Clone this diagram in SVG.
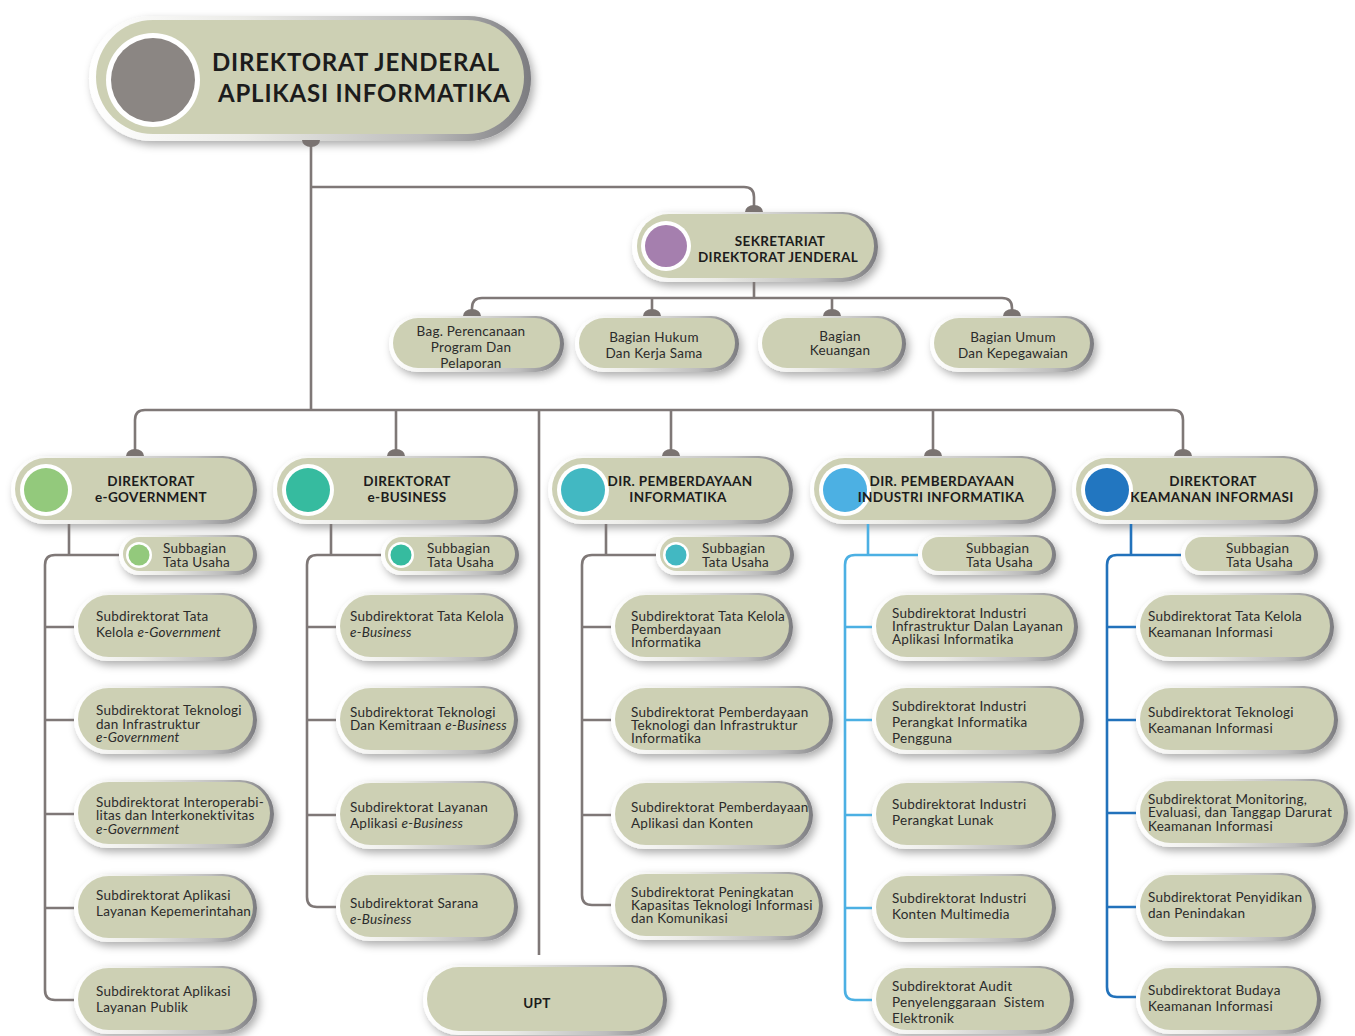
<svg xmlns="http://www.w3.org/2000/svg" width="1355" height="1036" viewBox="0 0 1355 1036">
  <defs>
    <linearGradient id="rim" x1="0" y1="0" x2="1" y2="0">
      <stop offset="0" stop-color="#ffffff"/>
      <stop offset="0.35" stop-color="#ebebe7"/>
      <stop offset="0.75" stop-color="#bdbdbd"/>
      <stop offset="1" stop-color="#7c7c80"/>
    </linearGradient>
    <filter id="sh" x="-10%" y="-20%" width="125%" height="160%">
      <feDropShadow dx="3" dy="4" stdDeviation="4" flood-color="#000" flood-opacity="0.32"/>
    </filter>
    <style>
      .rim{fill:url(#rim);filter:url(#sh)}
      .fill{fill:#cdd0b4}
      .ring{fill:#ffffff}
      .t{font-family:Lato,"Liberation Sans",sans-serif;font-size:13.5px;letter-spacing:0.25px;fill:#2b2b2b}
      .h{font-family:Lato,"Liberation Sans",sans-serif;font-weight:700;font-size:13.5px;letter-spacing:0.35px;fill:#1c1c1c;text-anchor:middle}
      .big{font-size:24px;letter-spacing:0.8px;text-anchor:start}
      .c{text-anchor:middle}
      .i{font-style:italic}
      .ln{fill:none;stroke:#7f7877;stroke-width:2.6}
      .lb{stroke:#4cb0e3}
      .db{stroke:#2272bb}
      .dome{fill:#7a7371}
    </style>
  </defs>

  <rect width="1355" height="1036" fill="#ffffff"/>

  <!-- top level -->
  <g id="dirjen">
    <rect class="rim" x="89" y="16" width="442" height="125" rx="62.5"/>
    <rect class="fill" x="96" y="20" width="428" height="114" rx="57"/>
    <circle class="ring" cx="153" cy="80" r="47"/>
    <circle cx="153" cy="80" r="42" fill="#8b8683"/>
    <text class="h big" x="212" y="71">DIREKTORAT JENDERAL</text>
    <text class="h big" x="218" y="102">APLIKASI INFORMATIKA</text>
  </g>

  <g id="sekretariat">
    <rect class="rim" x="632" y="212" width="246" height="70" rx="35"/>
    <rect class="fill" x="637" y="214" width="237" height="64" rx="32"/>
    <circle class="ring" cx="666" cy="246" r="25"/>
    <circle cx="666" cy="246" r="21" fill="#a57fae"/>
    <text class="h" x="780" y="246">SEKRETARIAT</text>
    <text class="h" x="778" y="262">DIREKTORAT JENDERAL</text>
  </g>

  <!-- bagian -->
  <g id="bag-perencanaan">
    <rect class="rim" x="389" y="316" width="175" height="56" rx="28"/>
    <rect class="fill" x="393" y="318" width="167" height="50" rx="25"/>
    <text class="t c" x="471" y="336">Bag. Perencanaan</text>
    <text class="t c" x="471" y="352">Program Dan</text>
    <text class="t c" x="471" y="368">Pelaporan</text>
  </g>
  <g id="bag-hukum">
    <rect class="rim" x="575" y="316" width="164" height="56" rx="28"/>
    <rect class="fill" x="579" y="318" width="156" height="50" rx="25"/>
    <text class="t c" x="654" y="342">Bagian Hukum</text>
    <text class="t c" x="654" y="358">Dan Kerja Sama</text>
  </g>
  <g id="bag-keuangan">
    <rect class="rim" x="758" y="316" width="148" height="56" rx="28"/>
    <rect class="fill" x="762" y="318" width="140" height="50" rx="25"/>
    <text class="t c" x="840" y="341">Bagian</text>
    <text class="t c" x="840" y="355">Keuangan</text>
  </g>
  <g id="bag-umum">
    <rect class="rim" x="930" y="316" width="164" height="56" rx="28"/>
    <rect class="fill" x="934" y="318" width="156" height="50" rx="25"/>
    <text class="t c" x="1013" y="342">Bagian Umum</text>
    <text class="t c" x="1013" y="358">Dan Kepegawaian</text>
  </g>

  <!-- direktorat -->
  <g id="dir-egov">
    <rect class="rim" x="11" y="456" width="246" height="68" rx="34"/>
    <rect class="fill" x="15" y="458" width="238" height="62" rx="31"/>
    <circle class="ring" cx="46" cy="490" r="26"/>
    <circle cx="46" cy="490" r="22" fill="#93c97c"/>
    <text class="h" x="151" y="486">DIREKTORAT</text>
    <text class="h" x="151" y="502">e-GOVERNMENT</text>
  </g>
  <g id="dir-ebiz">
    <rect class="rim" x="273" y="456" width="245" height="68" rx="34"/>
    <rect class="fill" x="277" y="458" width="237" height="62" rx="31"/>
    <circle class="ring" cx="308" cy="490" r="26"/>
    <circle cx="308" cy="490" r="22" fill="#36bb9f"/>
    <text class="h" x="407" y="486">DIREKTORAT</text>
    <text class="h" x="407" y="502">e-BUSINESS</text>
  </g>
  <g id="dir-pemberdayaan">
    <rect class="rim" x="548" y="456" width="245" height="68" rx="34"/>
    <rect class="fill" x="552" y="458" width="237" height="62" rx="31"/>
    <circle class="ring" cx="583" cy="490" r="26"/>
    <circle cx="583" cy="490" r="22" fill="#42b8c2"/>
    <text class="h" x="680" y="486">DIR. PEMBERDAYAAN</text>
    <text class="h" x="678" y="502">INFORMATIKA</text>
  </g>
  <g id="dir-industri">
    <rect class="rim" x="810" y="456" width="246" height="68" rx="34"/>
    <rect class="fill" x="814" y="458" width="238" height="62" rx="31"/>
    <circle class="ring" cx="845" cy="490" r="26"/>
    <circle cx="845" cy="490" r="22" fill="#4cb0e3"/>
    <text class="h" x="942" y="486">DIR. PEMBERDAYAAN</text>
    <text class="h" x="941" y="502">INDUSTRI INFORMATIKA</text>
  </g>
  <g id="dir-keamanan">
    <rect class="rim" x="1072" y="456" width="246" height="68" rx="34"/>
    <rect class="fill" x="1076" y="458" width="238" height="62" rx="31"/>
    <circle class="ring" cx="1107" cy="490" r="26"/>
    <circle cx="1107" cy="490" r="22" fill="#2276c0"/>
    <text class="h" x="1213" y="486">DIREKTORAT</text>
    <text class="h" x="1212" y="502">KEAMANAN INFORMASI</text>
  </g>

  <!-- subbagian tata usaha -->
  <g id="tu-egov">
    <rect class="rim" x="119" y="535" width="138" height="40" rx="20"/>
    <rect class="fill" x="123" y="537" width="130" height="34" rx="17"/>
    <circle class="ring" cx="139" cy="555" r="13"/>
    <circle cx="139" cy="555" r="10.5" fill="#93c97c"/>
    <text class="t" x="163" y="553">Subbagian</text>
    <text class="t" x="163" y="567">Tata Usaha</text>
  </g>
  <g id="tu-ebiz">
    <rect class="rim" x="381" y="535" width="138" height="40" rx="20"/>
    <rect class="fill" x="385" y="537" width="130" height="34" rx="17"/>
    <circle class="ring" cx="401" cy="555" r="13"/>
    <circle cx="401" cy="555" r="10.5" fill="#36bb9f"/>
    <text class="t" x="427" y="553">Subbagian</text>
    <text class="t" x="427" y="567">Tata Usaha</text>
  </g>
  <g id="tu-pemberdayaan">
    <rect class="rim" x="656" y="535" width="138" height="40" rx="20"/>
    <rect class="fill" x="660" y="537" width="130" height="34" rx="17"/>
    <circle class="ring" cx="676" cy="555" r="13"/>
    <circle cx="676" cy="555" r="10.5" fill="#42b8c2"/>
    <text class="t" x="702" y="553">Subbagian</text>
    <text class="t" x="702" y="567">Tata Usaha</text>
  </g>
  <g id="tu-industri">
    <rect class="rim" x="918" y="535" width="138" height="40" rx="20"/>
    <rect class="fill" x="922" y="537" width="130" height="34" rx="17"/>
    <text class="t" x="966" y="553">Subbagian</text>
    <text class="t" x="966" y="567">Tata Usaha</text>
  </g>
  <g id="tu-keamanan">
    <rect class="rim" x="1181" y="535" width="137" height="40" rx="20"/>
    <rect class="fill" x="1185" y="537" width="129" height="34" rx="17"/>
    <text class="t" x="1226" y="553">Subbagian</text>
    <text class="t" x="1226" y="567">Tata Usaha</text>
  </g>

  <!-- subdirektorat: e-Government -->
  <g id="egov-1">
    <rect class="rim" x="74" y="593" width="183" height="68" rx="34"/>
    <rect class="fill" x="78" y="595" width="175" height="62" rx="31"/>
    <text class="t" x="96" y="621">Subdirektorat Tata</text>
    <text class="t" x="96" y="637">Kelola <tspan class="i">e-Government</tspan></text>
  </g>
  <g id="egov-2">
    <rect class="rim" x="74" y="686" width="183" height="68" rx="34"/>
    <rect class="fill" x="78" y="688" width="175" height="62" rx="31"/>
    <text class="t" x="96" y="715">Subdirektorat Teknologi</text>
    <text class="t" x="96" y="729">dan Infrastruktur</text>
    <text class="t i" x="96" y="742">e-Government</text>
  </g>
  <g id="egov-3">
    <rect class="rim" x="74" y="780" width="200" height="68" rx="34"/>
    <rect class="fill" x="78" y="782" width="192" height="62" rx="31"/>
    <text class="t" x="96" y="807">Subdirektorat Interoperabi-</text>
    <text class="t" x="96" y="820">litas dan Interkonektivitas</text>
    <text class="t i" x="96" y="834">e-Government</text>
  </g>
  <g id="egov-4">
    <rect class="rim" x="74" y="874" width="183" height="68" rx="34"/>
    <rect class="fill" x="78" y="876" width="175" height="62" rx="31"/>
    <text class="t" x="96" y="900">Subdirektorat Aplikasi</text>
    <text class="t" x="96" y="916">Layanan Kepemerintahan</text>
  </g>
  <g id="egov-5">
    <rect class="rim" x="74" y="966" width="183" height="68" rx="34"/>
    <rect class="fill" x="78" y="968" width="175" height="62" rx="31"/>
    <text class="t" x="96" y="996">Subdirektorat Aplikasi</text>
    <text class="t" x="96" y="1012">Layanan Publik</text>
  </g>

  <!-- subdirektorat: e-Business -->
  <g id="ebiz-1">
    <rect class="rim" x="336" y="593" width="182" height="68" rx="34"/>
    <rect class="fill" x="340" y="595" width="174" height="62" rx="31"/>
    <text class="t" x="350" y="621">Subdirektorat Tata Kelola</text>
    <text class="t i" x="350" y="637">e-Business</text>
  </g>
  <g id="ebiz-2">
    <rect class="rim" x="336" y="686" width="182" height="68" rx="34"/>
    <rect class="fill" x="340" y="688" width="174" height="62" rx="31"/>
    <text class="t" x="350" y="717">Subdirektorat Teknologi</text>
    <text class="t" x="350" y="730">Dan Kemitraan <tspan class="i">e-Business</tspan></text>
  </g>
  <g id="ebiz-3">
    <rect class="rim" x="336" y="781" width="182" height="68" rx="34"/>
    <rect class="fill" x="340" y="783" width="174" height="62" rx="31"/>
    <text class="t" x="350" y="812">Subdirektorat Layanan</text>
    <text class="t" x="350" y="828">Aplikasi <tspan class="i">e-Business</tspan></text>
  </g>
  <g id="ebiz-4">
    <rect class="rim" x="336" y="873" width="182" height="68" rx="34"/>
    <rect class="fill" x="340" y="875" width="174" height="62" rx="31"/>
    <text class="t" x="350" y="908">Subdirektorat Sarana</text>
    <text class="t i" x="350" y="924">e-Business</text>
  </g>

  <!-- subdirektorat: Pemberdayaan Informatika -->
  <g id="pi-1">
    <rect class="rim" x="611" y="593" width="182" height="68" rx="34"/>
    <rect class="fill" x="615" y="595" width="174" height="62" rx="31"/>
    <text class="t" x="631" y="621">Subdirektorat Tata Kelola</text>
    <text class="t" x="631" y="634">Pemberdayaan</text>
    <text class="t" x="631" y="647">Informatika</text>
  </g>
  <g id="pi-2">
    <rect class="rim" x="611" y="686" width="222" height="68" rx="34"/>
    <rect class="fill" x="615" y="688" width="214" height="62" rx="31"/>
    <text class="t" x="631" y="717">Subdirektorat Pemberdayaan</text>
    <text class="t" x="631" y="730">Teknologi dan Infrastruktur</text>
    <text class="t" x="631" y="743">Informatika</text>
  </g>
  <g id="pi-3">
    <rect class="rim" x="611" y="781" width="202" height="68" rx="34"/>
    <rect class="fill" x="615" y="783" width="194" height="62" rx="31"/>
    <text class="t" x="631" y="812">Subdirektorat Pemberdayaan</text>
    <text class="t" x="631" y="828">Aplikasi dan Konten</text>
  </g>
  <g id="pi-4">
    <rect class="rim" x="611" y="872" width="212" height="68" rx="34"/>
    <rect class="fill" x="615" y="874" width="204" height="62" rx="31"/>
    <text class="t" x="631" y="897">Subdirektorat Peningkatan</text>
    <text class="t" x="631" y="910">Kapasitas Teknologi Informasi</text>
    <text class="t" x="631" y="923">dan Komunikasi</text>
  </g>

  <!-- subdirektorat: Pemberdayaan Industri Informatika -->
  <g id="ii-1">
    <rect class="rim" x="872" y="593" width="206" height="68" rx="34"/>
    <rect class="fill" x="876" y="595" width="198" height="62" rx="31"/>
    <text class="t" x="892" y="618">Subdirektorat Industri</text>
    <text class="t" x="892" y="631">Infrastruktur Dalan Layanan</text>
    <text class="t" x="892" y="644">Aplikasi Informatika</text>
  </g>
  <g id="ii-2">
    <rect class="rim" x="872" y="686" width="212" height="68" rx="34"/>
    <rect class="fill" x="876" y="688" width="204" height="62" rx="31"/>
    <text class="t" x="892" y="711">Subdirektorat Industri</text>
    <text class="t" x="892" y="727">Perangkat Informatika</text>
    <text class="t" x="892" y="743">Pengguna</text>
  </g>
  <g id="ii-3">
    <rect class="rim" x="872" y="781" width="184" height="68" rx="34"/>
    <rect class="fill" x="876" y="783" width="176" height="62" rx="31"/>
    <text class="t" x="892" y="809">Subdirektorat Industri</text>
    <text class="t" x="892" y="825">Perangkat Lunak</text>
  </g>
  <g id="ii-4">
    <rect class="rim" x="872" y="874" width="184" height="68" rx="34"/>
    <rect class="fill" x="876" y="876" width="176" height="62" rx="31"/>
    <text class="t" x="892" y="903">Subdirektorat Industri</text>
    <text class="t" x="892" y="919">Konten Multimedia</text>
  </g>
  <g id="ii-5">
    <rect class="rim" x="872" y="966" width="202" height="68" rx="34"/>
    <rect class="fill" x="876" y="968" width="194" height="62" rx="31"/>
    <text class="t" x="892" y="991">Subdirektorat Audit</text>
    <text class="t" x="892" y="1007" xml:space="preserve">Penyelenggaraan  Sistem</text>
    <text class="t" x="892" y="1023">Elektronik</text>
  </g>

  <!-- subdirektorat: Keamanan Informasi -->
  <g id="ki-1">
    <rect class="rim" x="1136" y="593" width="198" height="68" rx="34"/>
    <rect class="fill" x="1140" y="595" width="190" height="62" rx="31"/>
    <text class="t" x="1148" y="621">Subdirektorat Tata Kelola</text>
    <text class="t" x="1148" y="637">Keamanan Informasi</text>
  </g>
  <g id="ki-2">
    <rect class="rim" x="1136" y="686" width="202" height="68" rx="34"/>
    <rect class="fill" x="1140" y="688" width="194" height="62" rx="31"/>
    <text class="t" x="1148" y="717">Subdirektorat Teknologi</text>
    <text class="t" x="1148" y="733">Keamanan Informasi</text>
  </g>
  <g id="ki-3">
    <rect class="rim" x="1136" y="779" width="212" height="68" rx="34"/>
    <rect class="fill" x="1140" y="781" width="204" height="62" rx="31"/>
    <text class="t" x="1148" y="804">Subdirektorat Monitoring,</text>
    <text class="t" x="1148" y="817">Evaluasi, dan Tanggap Darurat</text>
    <text class="t" x="1148" y="831">Keamanan Informasi</text>
  </g>
  <g id="ki-4">
    <rect class="rim" x="1136" y="873" width="180" height="68" rx="34"/>
    <rect class="fill" x="1140" y="875" width="172" height="62" rx="31"/>
    <text class="t" x="1148" y="902">Subdirektorat Penyidikan</text>
    <text class="t" x="1148" y="918">dan Penindakan</text>
  </g>
  <g id="ki-5">
    <rect class="rim" x="1136" y="966" width="185" height="68" rx="34"/>
    <rect class="fill" x="1140" y="968" width="177" height="62" rx="31"/>
    <text class="t" x="1148" y="995">Subdirektorat Budaya</text>
    <text class="t" x="1148" y="1011">Keamanan Informasi</text>
  </g>

  <g id="upt">
    <rect class="rim" x="423" y="965" width="244" height="70" rx="35"/>
    <rect class="fill" x="427" y="967" width="236" height="64" rx="32"/>
    <text class="h" x="537" y="1008">UPT</text>
  </g>

  <!-- connectors -->
  <g id="connectors">
    <path class="ln" d="M311,141 V410"/>
    <path class="ln" d="M311,187 H744 Q754,187 754,197 V212"/>
    <path class="ln" d="M754,282 V298"/>
    <path class="ln" d="M472,316 V308 Q472,298 482,298 H1002 Q1012,298 1012,308 V316"/>
    <path class="ln" d="M652,298 V316 M832,298 V316"/>
    <path class="ln" d="M135,456 V420 Q135,410 145,410 H1173 Q1183,410 1183,420 V456"/>
    <path class="ln" d="M396,410 V456 M671,410 V456 M933,410 V456"/>
    <path class="ln" d="M539,410 V955"/>

    <path class="ln" d="M69,524 V555 M119,555 H55 Q45,555 45,565 V990 Q45,1000 55,1000 H74 M45,627 H74 M45,720 H74 M45,814 H74 M45,908 H74"/>
    <path class="ln" d="M331,524 V555 M381,555 H317 Q307,555 307,565 V897 Q307,907 317,907 H336 M307,627 H336 M307,720 H336 M307,815 H336"/>
    <path class="ln" d="M606,524 V555 M656,555 H592 Q582,555 582,565 V895 Q582,905 592,905 H611 M582,627 H611 M582,720 H611 M582,815 H611"/>
    <path class="ln lb" d="M868,524 V555 M918,555 H855 Q845,555 845,565 V990 Q845,1000 855,1000 H872 M845,627 H872 M845,720 H872 M845,815 H872 M845,908 H872"/>
    <path class="ln db" d="M1131,524 V555 M1181,555 H1117 Q1107,555 1107,565 V987 Q1107,997 1117,997 H1136 M1107,627 H1136 M1107,720 H1136 M1107,813 H1136 M1107,907 H1136"/>

    <path class="dome" d="M302,140 A9,7 0 0 0 320,140 Z"/>
    <path class="dome" d="M745,212 A9,7 0 0 1 763,212 Z"/>
    <path class="dome" d="M463,316 A9,7 0 0 1 481,316 Z"/>
    <path class="dome" d="M643,316 A9,7 0 0 1 661,316 Z"/>
    <path class="dome" d="M823,316 A9,7 0 0 1 841,316 Z"/>
    <path class="dome" d="M1003,316 A9,7 0 0 1 1021,316 Z"/>
    <path class="dome" d="M126,456 A9,7 0 0 1 144,456 Z"/>
    <path class="dome" d="M387,456 A9,7 0 0 1 405,456 Z"/>
    <path class="dome" d="M662,456 A9,7 0 0 1 680,456 Z"/>
    <path class="dome" d="M924,456 A9,7 0 0 1 942,456 Z"/>
    <path class="dome" d="M1174,456 A9,7 0 0 1 1192,456 Z"/>
  </g>
</svg>
